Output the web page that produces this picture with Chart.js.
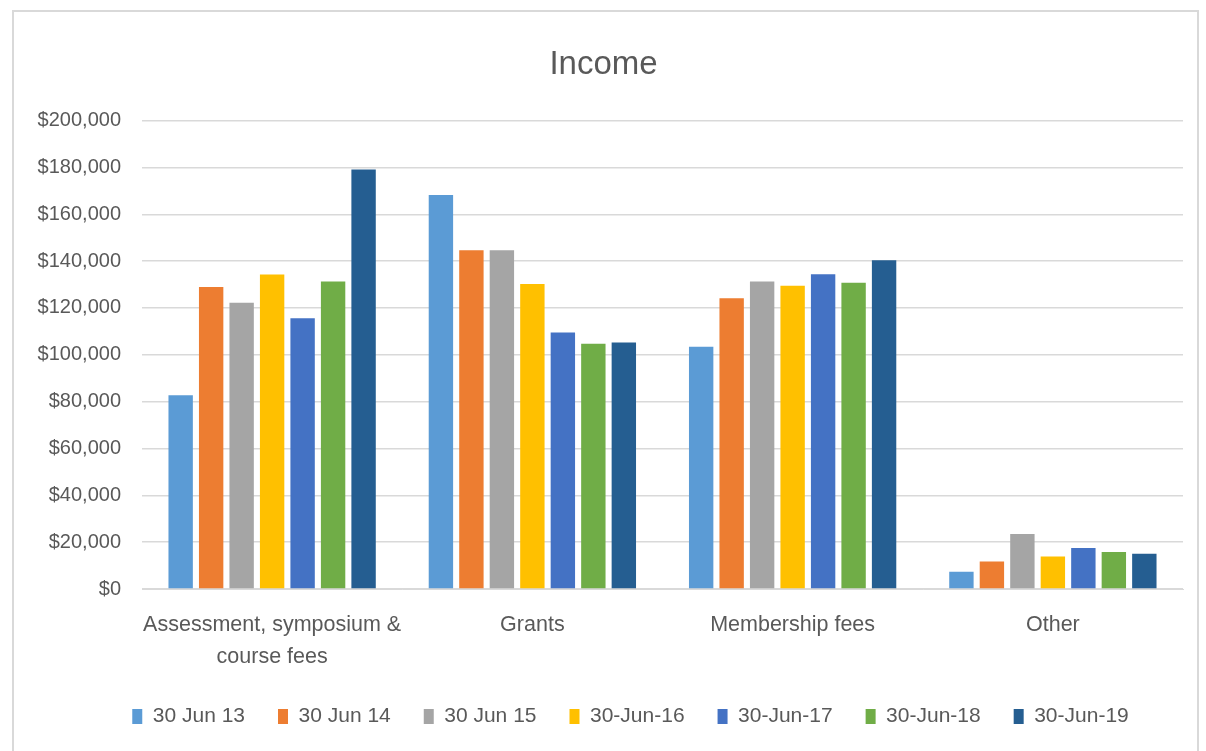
<!DOCTYPE html>
<html lang="en">
<head>
    <meta charset="UTF-8">
    <title>Income</title>
    <script src="https://cdn.jsdelivr.net/npm/chart.js"></script>
    <style>
        body {
            margin: 0;
            background: #ffffff;
        }
        /* frame around the chart, like the spreadsheet chart area */
        .chart-container {
            position: absolute;
            left: 12px;
            top: 10px;
            width: 1187px;
            height: 745px;
            border: 2px solid #d9d9d9;
            box-sizing: border-box;
        }
    </style>
</head>
<body>
    <div class="chart-container">
        <canvas id="incomeChart"></canvas>
    </div>

    <script>
        // categories on the x axis
        const categories = [
            ['Assessment, symposium &', 'course fees'],
            'Grants',
            'Membership fees',
            'Other'
        ];

        // one array per financial year
        const seriesLabels = ['30 Jun 13', '30 Jun 14', '30 Jun 15', '30-Jun-16', '30-Jun-17', '30-Jun-18', '30-Jun-19'];
        const jun13 = [82700, 168200, 103400, 7400];
        const jun14 = [128900, 144600, 124100, 11700];
        const jun15 = [122200, 144600, 131300, 23500];
        const jun16 = [134300, 130200, 129500, 13900];
        const jun17 = [115600, 109500, 134400, 17500];
        const jun18 = [131300, 104700, 130800, 15800];
        const jun19 = [179100, 105300, 140400, 15100];
        const seriesColors = ['#5b9bd5', '#ed7d31', '#a5a5a5', '#ffc000', '#4472c4', '#70ad47', '#255e91'];

        // y axis ticks
        const yMin = 0;
        const yMax = 200000;
        const yStep = 20000;

        const seriesValues = [jun13, jun14, jun15, jun16, jun17, jun18, jun19];
        const textColor = '#595959';
        const fontFamily = "'Liberation Sans', Arial, sans-serif";

        // the legend in the original sits a little right of centre
        const legendShift = {
            id: 'legendShift',
            afterLayout(chart) {
                chart.legend.left += 27;
                chart.legend.right += 27;
            }
        };

        const ctx = document.getElementById('incomeChart').getContext('2d');
        const incomeChart = new Chart(ctx, {
            type: 'bar',
            data: {
                labels: categories,
                datasets: seriesValues.map((vals, i) => ({
                    label: seriesLabels[i],
                    data: vals,
                    backgroundColor: seriesColors[i],
                    borderWidth: 0,
                    categoryPercentage: 0.82,
                    barPercentage: 0.8
                }))
            },
            options: {
                responsive: true,
                maintainAspectRatio: false,
                animation: false,
                layout: {
                    padding: { left: 10, right: 14, top: 14, bottom: 16 }
                },
                plugins: {
                    title: {
                        display: true,
                        text: 'Income',
                        color: textColor,
                        font: { size: 33, family: fontFamily, weight: 'normal' },
                        padding: { top: 19, bottom: 36 }
                    },
                    legend: {
                        position: 'bottom',
                        labels: {
                            color: textColor,
                            boxWidth: 10,
                            boxHeight: 15,
                            padding: 33,
                            font: { size: 21, family: fontFamily }
                        }
                    },
                    tooltip: { enabled: false }
                },
                scales: {
                    x: {
                        grid: { display: false },
                        border: { color: '#d9d9d9' },
                        afterFit: scale => { scale.height = 84; },
                        ticks: {
                            color: textColor,
                            maxRotation: 0,
                            autoSkip: false,
                            padding: 12,
                            font: { size: 21.5, family: fontFamily, lineHeight: 1.5 }
                        }
                    },
                    y: {
                        min: yMin,
                        max: yMax,
                        grid: { color: '#d9d9d9', lineWidth: 1.5, drawTicks: false },
                        border: { display: false },
                        afterFit: scale => { scale.width = 118; },
                        ticks: {
                            stepSize: yStep,
                            color: textColor,
                            padding: 21,
                            font: { size: 20, family: fontFamily },
                            callback: v => '$' + v.toLocaleString('en-US')
                        }
                    }
                }
            },
            plugins: [legendShift]
        });
    </script>
</body>
</html>
